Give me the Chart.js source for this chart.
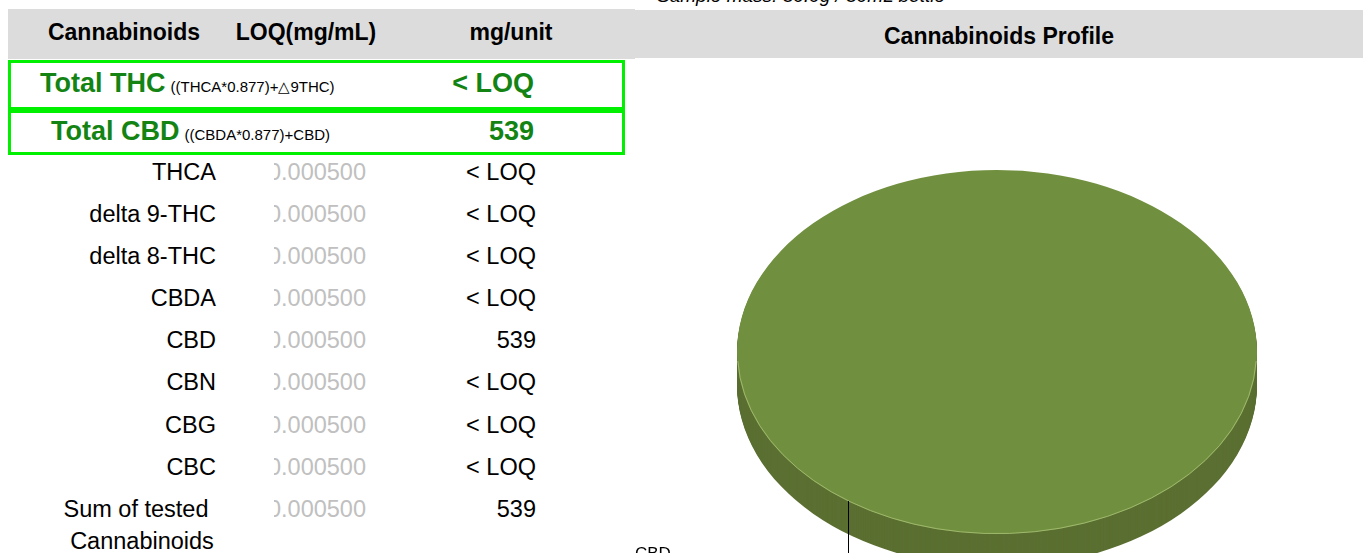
<!DOCTYPE html>
<html>
<head>
<meta charset="utf-8">
<script src="https://cdn.jsdelivr.net/npm/chart.js@4.4.1/dist/chart.umd.min.js"></script>
<style>
  html,body{margin:0;padding:0;background:#fff;}
  body{width:1363px;height:553px;overflow:hidden;position:relative;font-family:"Liberation Sans",Arial,sans-serif;}
  .abs{position:absolute;white-space:nowrap;}
  .hdr{background:#dcdcdc;position:absolute;}
  .gbox{position:absolute;border:3px solid #00f000;box-sizing:border-box;}
  .clip{position:absolute;overflow:hidden;}
  .clip span{position:absolute;right:0;white-space:nowrap;}
</style>
</head>
<body>
<script>
// ---------- data ----------
const tableHeaders = ['Cannabinoids', 'LOQ(mg/mL)', 'mg/unit'];
const totalLabels = ['Total THC', 'Total CBD'];
const totalFormulas = ['((THCA*0.877)+\u25B39THC)', '((CBDA*0.877)+CBD)'];
const totalValues = ['< LOQ', '539'];
const compoundNames = ['THCA', 'delta 9-THC', 'delta 8-THC', 'CBDA', 'CBD', 'CBN', 'CBG', 'CBC'];
const compoundLOQ = ['0.000500', '0.000500', '0.000500', '0.000500', '0.000500', '0.000500', '0.000500', '0.000500'];
const compoundValues = ['< LOQ', '< LOQ', '< LOQ', '< LOQ', '539', '< LOQ', '< LOQ', '< LOQ'];
const sumLabel = ['Sum of tested', 'Cannabinoids'];
const sumLOQ = '0.000500';
const sumValue = '539';
const chartTitle = 'Cannabinoids Profile';
const sampleNote = 'Sample mass: 30.0g / 30mL bottle';
const pieLabels = ['CBD'];
const pieValues = [539];

// ---------- layout helpers ----------
const W = 1363;
function txt(text, x, cy, align, font, color, h) {
  h = h || 40;
  const d = document.createElement('div');
  d.className = 'abs';
  d.textContent = text;
  d.style.font = font;
  d.style.color = color || '#000';
  d.style.lineHeight = h + 'px';
  d.style.top = (cy - h / 2) + 'px';
  if (align === 'left') d.style.left = x + 'px';
  else if (align === 'right') d.style.right = (W - x) + 'px';
  else { d.style.left = x + 'px'; d.style.transform = 'translateX(-50%)'; }
  document.body.appendChild(d);
  return d;
}
function box(cls, l, t, w, h) {
  const d = document.createElement('div');
  d.className = cls;
  d.style.left = l + 'px'; d.style.top = t + 'px';
  d.style.width = w + 'px'; d.style.height = h + 'px';
  document.body.appendChild(d);
  return d;
}
function clipped(text, left, right, cy, font, color) {
  const d = box('clip', left, cy - 20, right - left, 40);
  const s = document.createElement('span');
  s.textContent = text;
  s.style.font = font; s.style.color = color; s.style.lineHeight = '40px';
  d.appendChild(s);
}

// headers
box('hdr', 8, 9, 627, 50);
box('hdr', 635, 10, 728, 48);
const HF = 'bold 23px "Liberation Sans", Arial, sans-serif';
txt(tableHeaders[0], 124, 32, 'center', HF);
txt(tableHeaders[1], 306, 32, 'center', HF);
txt(tableHeaders[2], 511, 32, 'center', HF);
txt(chartTitle, 999, 36, 'center', HF);
txt(sampleNote, 657, -4, 'left', 'italic 19px "Liberation Sans", Arial, sans-serif', '#000', 24);

// total boxes
box('gbox', 8, 60, 617, 50);
box('gbox', 8, 110, 617, 45);
const GREEN = '#138413';
const TF = 'bold 27px "Liberation Sans", Arial, sans-serif';
const SF = '15px "Liberation Sans", Arial, sans-serif';
const totalY = [83, 131];
const totalX = [40, 51];
totalLabels.forEach((lab, i) => {
  const d = document.createElement('div');
  d.className = 'abs';
  d.style.left = totalX[i] + 'px';
  d.style.top = (totalY[i] - 20) + 'px';
  d.style.lineHeight = '40px';
  const s1 = document.createElement('span');
  s1.textContent = lab; s1.style.font = TF; s1.style.color = GREEN; s1.style.lineHeight = '40px';
  const s2 = document.createElement('span');
  s2.textContent = totalFormulas[i]; s2.style.font = SF; s2.style.color = '#000';
  s2.style.marginLeft = '5px'; s2.style.lineHeight = '40px';
  d.appendChild(s1); d.appendChild(s2);
  document.body.appendChild(d);
  txt(totalValues[i], 534, totalY[i], 'right', TF, GREEN);
});

// compound rows
const RF = '23.5px "Liberation Sans", Arial, sans-serif';
const rowY = [172, 214, 256, 298, 340, 382, 425, 467];
compoundNames.forEach((n, i) => {
  txt(n, 216, rowY[i], 'right', RF);
  clipped(compoundLOQ[i], 274, 366, rowY[i], RF, '#c0c0c0');
  txt(compoundValues[i], 536, rowY[i], 'right', RF);
});
txt(sumLabel[0], 136, 509, 'center', RF);
txt(sumLabel[1], 142, 541, 'center', RF);
clipped(sumLOQ, 274, 366, 509, RF, '#c0c0c0');
txt(sumValue, 536, 509, 'right', RF);

// ---------- chart ----------
const cv = document.createElement('canvas');
cv.width = 728; cv.height = 600;
cv.style.cssText = 'position:absolute;left:635px;top:58px;width:728px;height:600px;';
document.body.appendChild(cv);

const SQUASH = 0.7, DEPTH = 33;
const topColors = ['#71903f'];
const sideColors = ['#5a6f31'];
const LABEL_ANGLE = 125 * Math.PI / 180;

function squash(ctx, cx, cy) {
  ctx.translate(cx, cy);
  ctx.scale(1, SQUASH);
  ctx.translate(-cx, -cy);
}
const pie3d = {
  id: 'pie3d',
  beforeDatasetsDraw(chart) {
    const ctx = chart.ctx;
    const meta = chart.getDatasetMeta(0);
    const a0 = meta.data[0];
    const cx = a0.x, cy = a0.y;
    for (let d = DEPTH; d > 0; d--) {
      ctx.save();
      ctx.translate(0, d);
      squash(ctx, cx, cy);
      meta.data.forEach((arc, i) => {
        ctx.beginPath();
        if (arc.endAngle - arc.startAngle < Math.PI * 2 - 1e-6) ctx.moveTo(arc.x, arc.y);
        ctx.arc(arc.x, arc.y, arc.outerRadius, arc.startAngle, arc.endAngle);
        ctx.closePath();
        ctx.fillStyle = sideColors[i % sideColors.length];
        ctx.fill();
      });
      ctx.restore();
    }
    ctx.save();
    squash(ctx, cx, cy);
  },
  afterDatasetsDraw(chart) {
    const ctx = chart.ctx;
    ctx.restore();
    const meta = chart.getDatasetMeta(0);
    const a0 = meta.data[0];
    const cx = a0.x, cy = a0.y, r = a0.outerRadius;
    // subtle front rim highlight
    ctx.save();
    squash(ctx, cx, cy);
    ctx.beginPath();
    ctx.arc(cx, cy, r - 0.5, 0.05, Math.PI - 0.05);
    ctx.restore();
    ctx.strokeStyle = 'rgba(170,195,120,0.8)';
    ctx.lineWidth = 1;
    ctx.stroke();
    // leader line + label
    const px = cx + r * Math.cos(LABEL_ANGLE);
    const py = cy + r * Math.sin(LABEL_ANGLE) * SQUASH;
    ctx.beginPath();
    ctx.moveTo(Math.round(px) + 0.5, py);
    ctx.lineTo(Math.round(px) + 0.5, chart.height);
    ctx.strokeStyle = '#000';
    ctx.lineWidth = 1;
    ctx.stroke();
    ctx.fillStyle = '#000';
    ctx.font = '17px "Liberation Sans", Arial, sans-serif';
    ctx.textBaseline = 'alphabetic';
    ctx.textAlign = 'left';
    ctx.fillText(chart.data.labels[0], 0, 501);
  }
};

new Chart(cv, {
  type: 'pie',
  data: {
    labels: pieLabels,
    datasets: [{ data: pieValues, backgroundColor: topColors, borderWidth: 0 }]
  },
  options: {
    responsive: false,
    animation: false,
    layout: { padding: { left: 102, right: 106, top: 34, bottom: 46 } },
    plugins: { legend: { display: false }, tooltip: { enabled: false }, title: { display: false } }
  },
  plugins: [pie3d]
});
</script>
</body>
</html>
